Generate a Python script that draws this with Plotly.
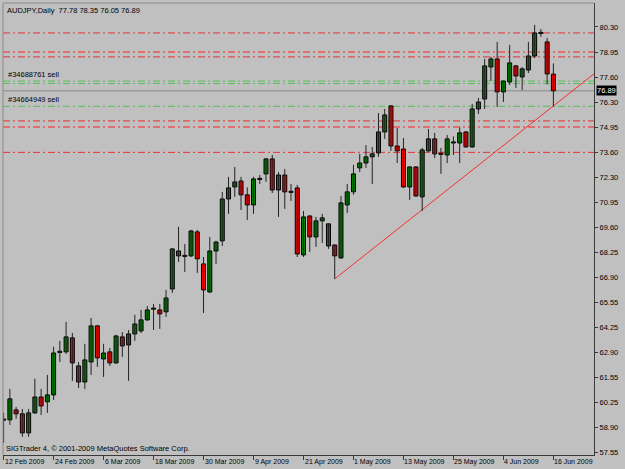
import plotly.graph_objects as go

# ---------------- data ----------------
dates = [
    "2009-02-12", "2009-02-13", "2009-02-16", "2009-02-17", "2009-02-18", "2009-02-19", "2009-02-20",
    "2009-02-23", "2009-02-24", "2009-02-25", "2009-02-26", "2009-02-27",
    "2009-03-02", "2009-03-03", "2009-03-04", "2009-03-05", "2009-03-06", "2009-03-09", "2009-03-10",
    "2009-03-11", "2009-03-12", "2009-03-13", "2009-03-16", "2009-03-17", "2009-03-18", "2009-03-19",
    "2009-03-20", "2009-03-23", "2009-03-24", "2009-03-25", "2009-03-26", "2009-03-27", "2009-03-30",
    "2009-03-31",
    "2009-04-01", "2009-04-02", "2009-04-03", "2009-04-06", "2009-04-07", "2009-04-08", "2009-04-09",
    "2009-04-10", "2009-04-13", "2009-04-14", "2009-04-15", "2009-04-16", "2009-04-17", "2009-04-20",
    "2009-04-21", "2009-04-22", "2009-04-23", "2009-04-24", "2009-04-27", "2009-04-28", "2009-04-29",
    "2009-04-30",
    "2009-05-01", "2009-05-04", "2009-05-05", "2009-05-06", "2009-05-07", "2009-05-08", "2009-05-11",
    "2009-05-12", "2009-05-13", "2009-05-14", "2009-05-15", "2009-05-18", "2009-05-19", "2009-05-20",
    "2009-05-21", "2009-05-22", "2009-05-25", "2009-05-26", "2009-05-27", "2009-05-28", "2009-05-29",
    "2009-06-01", "2009-06-02", "2009-06-03", "2009-06-04", "2009-06-05", "2009-06-08", "2009-06-09",
    "2009-06-10", "2009-06-11", "2009-06-12", "2009-06-15", "2009-06-16",
]

opens = [
    59.29, 59.31, 59.84, 59.63, 58.61, 59.68, 60.53, 60.27, 60.64, 62.91,
    62.94, 63.69, 62.19, 61.33, 62.40, 64.33, 62.56, 62.94, 62.35, 63.74,
    63.31, 63.90, 64.06, 64.65, 65.22, 65.18, 65.08, 66.30, 68.33, 68.04,
    68.07, 69.35, 67.64, 66.14, 68.33, 68.87, 71.11, 71.75, 72.07, 71.33,
    70.79, 72.15, 72.45, 73.25, 71.59, 72.39, 71.52, 71.70, 68.12, 70.20,
    69.08, 69.94, 69.78, 68.65, 67.96, 70.79, 71.49, 72.77, 73.03, 73.36,
    73.57, 74.69, 76.08, 73.94, 73.78, 71.75, 72.82, 71.22, 73.68, 74.32,
    73.55, 73.46, 74.10, 74.10, 74.69, 73.89, 75.92, 76.45, 78.16, 78.59,
    76.83, 77.36, 78.22, 77.63, 78.00, 78.75, 79.95, 79.50, 77.78,
]
highs = [
    59.68, 60.96, 60.00, 59.89, 59.89, 61.50, 60.96, 61.71, 63.21, 63.53,
    64.54, 63.95, 62.40, 63.37, 64.75, 64.38, 63.37, 63.15, 63.85, 64.00,
    64.11, 64.92, 65.18, 65.39, 65.50, 65.50, 66.25, 68.49, 69.62, 68.71,
    69.46, 69.46, 68.01, 69.08, 68.87, 71.49, 72.29, 72.82, 72.29, 71.73,
    72.29, 72.39, 73.28, 73.46, 72.55, 72.71, 71.91, 71.86, 70.47, 70.24,
    70.15, 70.31, 69.80, 68.68, 71.27, 71.91, 72.93, 73.52, 73.99, 73.89,
    75.70, 75.92, 76.13, 74.90, 74.37, 72.86, 72.86, 73.84, 74.85, 74.64,
    73.84, 74.53, 74.45, 74.93, 74.74, 76.19, 76.51, 78.59, 78.70, 79.50,
    77.44, 79.34, 78.27, 78.16, 79.50, 80.41, 80.19, 79.71, 78.35,
]
lows = [
    58.08, 59.04, 59.36, 58.40, 58.40, 59.63, 59.57, 59.68, 60.37, 62.40,
    62.83, 61.39, 61.01, 60.96, 61.71, 62.14, 61.60, 62.19, 62.30, 62.67,
    61.39, 63.53, 63.95, 64.59, 64.11, 64.17, 64.81, 66.09, 67.75, 67.21,
    68.01, 67.16, 65.02, 66.09, 67.64, 68.60, 70.31, 71.22, 70.52, 69.99,
    70.31, 71.91, 72.02, 71.43, 70.15, 70.58, 71.00, 68.01, 68.01, 68.28,
    68.55, 68.76, 68.44, 66.84, 67.91, 70.36, 71.33, 72.55, 72.77, 71.91,
    73.36, 74.32, 73.68, 73.03, 71.70, 71.06, 71.22, 70.47, 73.62, 73.30,
    72.45, 73.03, 73.46, 73.03, 73.86, 73.84, 75.65, 75.92, 77.41, 76.03,
    76.29, 77.20, 77.04, 76.93, 77.84, 78.64, 79.77, 77.23, 76.05,
]
closes = [
    59.35, 60.43, 59.63, 58.61, 59.68, 60.53, 60.05, 60.64, 62.88, 62.97,
    63.74, 62.35, 61.33, 62.51, 64.33, 62.62, 62.88, 62.35, 63.79, 63.26,
    63.90, 64.43, 64.65, 65.18, 65.28, 64.97, 65.82, 68.44, 68.07, 68.10,
    69.40, 67.91, 66.25, 68.33, 68.81, 71.11, 71.70, 72.02, 71.33, 70.79,
    72.18, 72.21, 73.25, 71.59, 72.39, 71.49, 71.46, 68.17, 70.15, 69.08,
    69.94, 70.10, 68.60, 68.07, 70.90, 71.49, 72.45, 73.03, 73.36, 73.52,
    74.69, 75.60, 73.94, 73.68, 71.75, 72.82, 71.27, 73.73, 74.32, 73.52,
    73.49, 74.32, 74.16, 74.64, 73.89, 75.92, 76.29, 78.22, 78.59, 76.83,
    77.41, 78.38, 77.68, 78.06, 78.75, 79.98, 80.01, 77.79, 76.89,
]

price_tick_labels = ["57.55", "58.90", "60.25", "61.55", "62.90", "64.25", "65.55", "66.90", "68.25",
                     "69.60", "70.95", "72.30", "73.60", "74.95", "76.30", "77.60", "78.95", "80.30"]
date_tick_dates = ["2009-02-12", "2009-02-24", "2009-03-06", "2009-03-18", "2009-03-30", "2009-04-09",
                   "2009-04-21", "2009-05-01", "2009-05-13", "2009-05-25", "2009-06-04", "2009-06-16"]
date_tick_labels = ["12 Feb 2009", "24 Feb 2009", "6 Mar 2009", "18 Mar 2009", "30 Mar 2009", "9 Apr 2009",
                    "21 Apr 2009", "1 May 2009", "13 May 2009", "25 May 2009", "4 Jun 2009", "16 Jun 2009"]

levels_red = [79.98, 78.70, 75.28, 73.60]
levels_red_light = [78.96, 74.96]
levels_green = [77.41, 77.28, 76.06]
bid_price = 76.89
order_labels = [("#34688761 sell", 77.41), ("#34664949 sell", 76.06)]
trend_from = ("2009-04-28", 66.84)
trend_to = ("2009-06-16", 76.08)

title_text = "AUDJPY,Daily\u00a0 77.78 78.35 76.05 76.89"
footer_text = "SIGTrader 4, \u00a9 2001-2009 MetaQuotes Software Corp."

# ---------------- styles ----------------
BG = "#C0C0C0"
UP = "#008000"
DOWN = "#FF0000"
AXIS = "#3a3a3a"
FONT = "Liberation Sans, Arial, sans-serif"
FS = 7.5
FS_DATE = 7
DASHDOT = "7px,3px,2px,3px"

idx = list(range(len(dates)))
pos = {d: i for i, d in enumerate(dates)}
x_min, x_max = -0.1, 94.5
y_min, y_max = 57.43, 81.58

fig = go.Figure()

# wicks
wx, wy = [], []
for i, h, l in zip(idx, highs, lows):
    wx += [i, i, None]
    wy += [l, h, None]
fig.add_trace(go.Scatter(x=wx, y=wy, mode="lines", line=dict(color="#222222", width=1),
                         hoverinfo="skip"))

# bodies
colors = [UP if c >= o else DOWN for o, c in zip(opens, closes)]
fig.add_trace(go.Bar(
    x=idx,
    y=[abs(c - o) for o, c in zip(opens, closes)],
    base=[min(o, c) for o, c in zip(opens, closes)],
    width=0.64,
    marker=dict(color=colors, line=dict(color="black", width=1)),
    hoverinfo="skip",
))

shapes = []
for lv in levels_red:
    shapes.append(dict(type="line", xref="paper", x0=0, x1=1, yref="y", y0=lv, y1=lv, layer="below",
                       line=dict(color="#E83030", width=1, dash=DASHDOT)))
for lv in levels_red_light:
    shapes.append(dict(type="line", xref="paper", x0=0, x1=1, yref="y", y0=lv, y1=lv, layer="below",
                       line=dict(color="#E07070", width=2, dash=DASHDOT)))
for lv in levels_green:
    shapes.append(dict(type="line", xref="paper", x0=0, x1=1, yref="y", y0=lv, y1=lv, layer="below",
                       line=dict(color="#55C055", width=1, dash=DASHDOT)))
shapes.append(dict(type="line", xref="paper", x0=0, x1=1, yref="y", y0=bid_price, y1=bid_price, layer="below",
                   line=dict(color="#9a9a9a", width=1.5)))

# trend line (ray extended to the right edge)
tx0, ty0 = pos[trend_from[0]], trend_from[1]
tx1, ty1 = pos[trend_to[0]], trend_to[1]
slope = (ty1 - ty0) / (tx1 - tx0)
shapes.append(dict(type="line", xref="x", yref="y", x0=tx0, y0=ty0, x1=x_max, y1=ty0 + slope * (x_max - tx0),
                   layer="below", line=dict(color="#F03030", width=1)))

# frame lines (left / top)
shapes.append(dict(type="line", xref="paper", yref="paper", x0=0, x1=0, y0=0, y1=1,
                   line=dict(color="#8a8a8a", width=1)))
shapes.append(dict(type="line", xref="paper", yref="paper", x0=0, x1=1, y0=1, y1=1,
                   line=dict(color="#8a8a8a", width=1)))

annotations = [
    dict(text=title_text, xref="paper", yref="paper", x=0, y=1, xanchor="left", yanchor="top",
         xshift=2, yshift=-1, showarrow=False, font=dict(family=FONT, size=FS, color="black")),
    dict(text=footer_text, xref="paper", yref="paper", x=0, y=0, xanchor="left", yanchor="bottom",
         xshift=1, yshift=0, showarrow=False, font=dict(family=FONT, size=FS, color="black")),
    dict(text=str(bid_price), xref="paper", yref="y", x=1, y=bid_price, xanchor="left", yanchor="middle",
         xshift=2, showarrow=False, bgcolor="black", borderpad=0,
         font=dict(family=FONT, size=FS, color="white")),
]
for txt, lv in order_labels:
    annotations.append(dict(text=txt, xref="paper", yref="y", x=0, y=lv, xanchor="left", yanchor="bottom",
                            xshift=3, showarrow=False, font=dict(family=FONT, size=FS, color="black")))
# date labels: left-aligned just right of each tick, below the axis
for d, lab in zip(date_tick_dates, date_tick_labels):
    annotations.append(dict(text=lab, xref="x", yref="paper", x=pos[d], y=0, xanchor="left", yanchor="top",
                            xshift=-1, yshift=-1, showarrow=False,
                            font=dict(family=FONT, size=FS_DATE, color="black")))

n_ticks = len(price_tick_labels)
lo_t, hi_t = float(price_tick_labels[0]), float(price_tick_labels[-1])
price_tick_vals = [lo_t + (hi_t - lo_t) * k / (n_ticks - 1) for k in range(n_ticks)]

fig.update_layout(
    width=625, height=469,
    margin=dict(l=3, r=31, t=3, b=14),
    paper_bgcolor=BG, plot_bgcolor=BG,
    showlegend=False, barmode="overlay",
    font=dict(family=FONT, size=FS, color="black"),
    shapes=shapes, annotations=annotations,
    xaxis=dict(range=[x_min, x_max], showgrid=False, zeroline=False, showline=True,
               linecolor=AXIS, linewidth=1, automargin=False,
               tickmode="array", tickvals=[pos[d] for d in date_tick_dates], showticklabels=False,
               ticks="outside", ticklen=4, tickcolor=AXIS, fixedrange=True),
    yaxis=dict(side="right", range=[y_min, y_max], showgrid=False, zeroline=False, showline=True,
               linecolor=AXIS, linewidth=1, automargin=False,
               tickmode="array", tickvals=price_tick_vals, ticktext=price_tick_labels,
               ticks="outside", ticklen=3, tickcolor=AXIS,
               tickfont=dict(family=FONT, size=FS, color="black"), fixedrange=True),
)

fig.write_html("out.html")
